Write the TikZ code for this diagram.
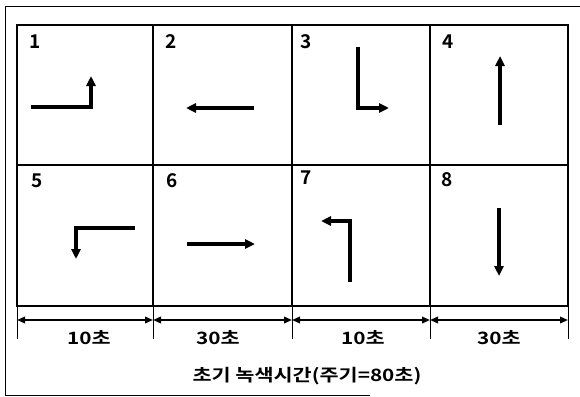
\documentclass[tikz,border=0pt]{standalone}
\usepackage{fontspec}
\setmainfont{Noto Sans CJK KR}[BoldFont={Noto Sans CJK KR Bold}]
\newfontfamily\krwide{Noto Sans CJK KR Bold}[FakeStretch=1.22]
\usetikzlibrary{arrows.meta}
\begin{document}
\begin{tikzpicture}[x=1pt,y=-1pt,
  gridline/.style={line width=1.3pt},
  mv/.style={line width=3.4pt,-{Triangle[length=10pt,width=9pt]}},
  dim/.style={line width=1.8pt,{Triangle[length=8pt,width=6.5pt]}-{Triangle[length=8pt,width=6.5pt]}},
  tick/.style={line width=0.8pt},
  num/.style={font=\bfseries\fontsize{19}{19}\selectfont, inner sep=0pt},
  lab/.style={font=\krwide\fontsize{17}{17}\selectfont, inner sep=0pt}]
\useasboundingbox (0,0) rectangle (580,396);
% outer frame
\draw[line width=1pt] (600,7) -- (5,7) -- (5,395) -- (370,395);
% grid
\coordinate (g00) at (17,25);
\coordinate (g11) at (568,306);
\draw[gridline] (17,165) -- (568,165);
\foreach \x in {153,292,430} \draw[gridline] (\x,25) -- (\x,306);
\draw[line width=2.2pt] (g00) rectangle (g11);
% numbers
\node[num] (n1) at (35,42) {1};
\node[num] (n2) at (171,42) {2};
\node[num] (n3) at (306,42) {3};
\node[num] (n4) at (448,42) {4};
\node[num] (n5) at (37,181) {5};
\node[num] (n6) at (172,181) {6};
\node[num] (n7) at (306,178) {7};
\node[num] (n8) at (447,180) {8};
% movement arrows
\coordinate (a1s) at (31,107); \coordinate (a1c) at (91,107); \coordinate (a1e) at (91,76);
\draw[mv] (a1s) -- (a1c) -- (a1e);
\coordinate (a2s) at (254,108); \coordinate (a2e) at (186,108);
\draw[mv] (a2s) -- (a2e);
\coordinate (a3s) at (358,47); \coordinate (a3c) at (358,108); \coordinate (a3e) at (389,108);
\draw[mv] (a3s) -- (a3c) -- (a3e);
\coordinate (a4s) at (500,125); \coordinate (a4e) at (500,56);
\draw[mv] (a4s) -- (a4e);
\coordinate (a5s) at (135,228); \coordinate (a5c) at (76,228); \coordinate (a5e) at (76,259);
\draw[mv] (a5s) -- (a5c) -- (a5e);
\coordinate (a6s) at (187,244); \coordinate (a6e) at (255,244);
\draw[mv] (a6s) -- (a6e);
\coordinate (a7s) at (350,282); \coordinate (a7c) at (350,221); \coordinate (a7e) at (321,221);
\draw[mv] (a7s) -- (a7c) -- (a7e);
\coordinate (a8s) at (499,208); \coordinate (a8e) at (499,276);
\draw[mv] (a8s) -- (a8e);
% dimension ticks and arrows
\foreach \x [count=\i] in {17,153,292,430,568} {
  \coordinate (t\i) at (\x,320);
  \draw[tick] (\x,306) -- (\x,339);
}
\draw[dim] (t1) -- (t2);
\draw[dim] (t2) -- (t3);
\draw[dim] (t3) -- (t4);
\draw[dim] (t4) -- (t5);
\node[lab] (l1) at (89,338) {10초};
\node[lab] (l2) at (218,338) {30초};
\node[lab] (l3) at (363,338) {10초};
\node[lab] (l4) at (499,338) {30초};
\node[lab] (cap) at (307,376) {초기 녹색시간(주기=80초)};
\end{tikzpicture}
\end{document}
